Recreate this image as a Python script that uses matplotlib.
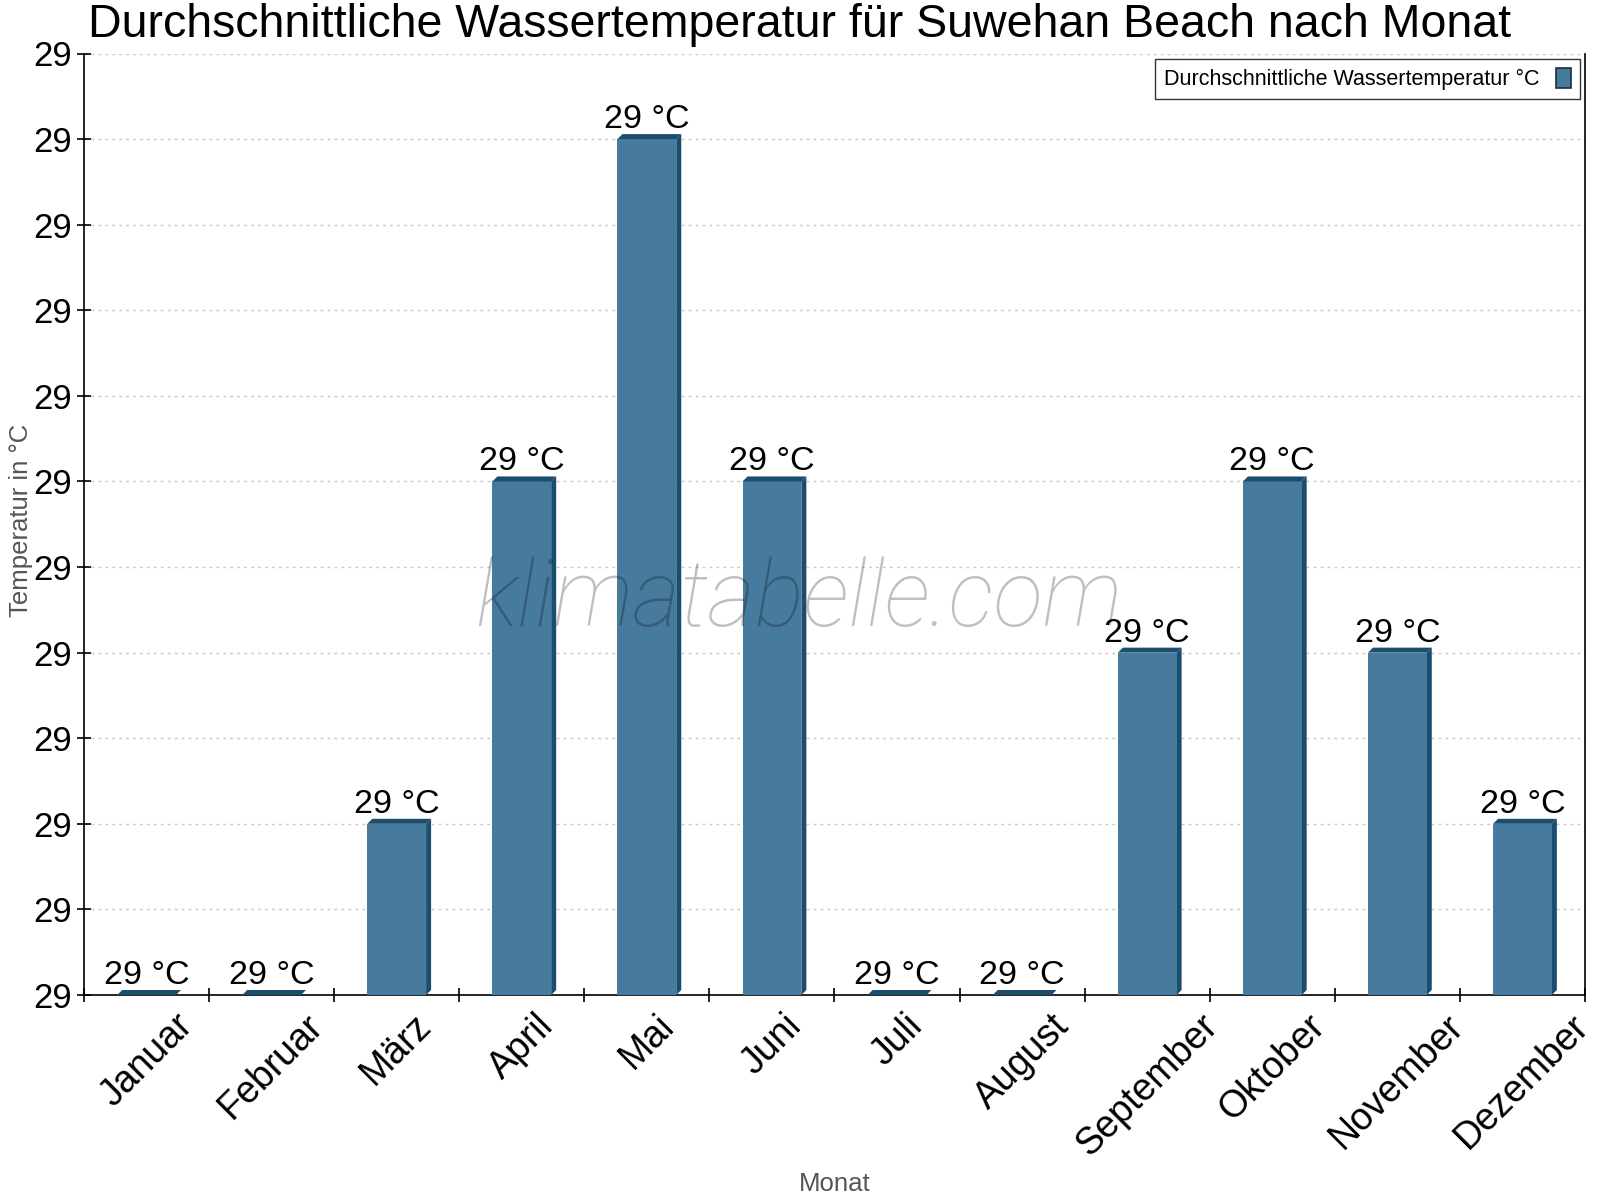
import matplotlib
matplotlib.use("Agg")
import matplotlib.pyplot as plt
from matplotlib.patches import Polygon, Patch
from matplotlib.ticker import FixedLocator, FormatStrFormatter

months = ["Januar", "Februar", "März", "April", "Mai", "Juni", "Juli",
          "August", "September", "Oktober", "November", "Dezember"]
water_temp = [28.80, 28.80, 28.88, 29.04, 29.20, 29.04, 28.80, 28.80,
              28.96, 29.04, 28.96, 28.88]
y_ticks = [28.80, 28.84, 28.88, 28.92, 28.96, 29.00, 29.04, 29.08, 29.12,
           29.16, 29.20, 29.24]

title = "Durchschnittliche Wassertemperatur für Suwehan Beach nach Monat"
legend_label = "Durchschnittliche Wassertemperatur °C"

FRONT = "#467b9e"
DARK = "#1b4d6e"

plt.rcParams['font.family'] = ['Liberation Sans', 'DejaVu Sans']

fig = plt.figure(figsize=(16, 12), dpi=100)
ax = fig.add_axes([84/1600, 1 - 995/1200, (1585 - 84)/1600, (995 - 53.5)/1200])

ymin, ymax = y_ticks[0], y_ticks[-1]
ax.set_xlim(-0.5, len(months) - 0.5)
ax.set_ylim(ymin, ymax)

# pixel -> data conversions for the 3D offset
ax_w_px = (1585 - 84)
ax_h_px = (995 - 53.5)
dx = 5 * (len(months)) / ax_w_px
dy = 5 * (ymax - ymin) / ax_h_px

w = 0.47
xs = list(range(len(months)))
heights = [v - ymin for v in water_temp]
ax.bar(xs, heights, bottom=ymin, width=w, color=FRONT, zorder=3, linewidth=0)

for x, v in zip(xs, water_temp):
    xl, xr = x - w / 2, x + w / 2
    side = Polygon([(xr, ymin), (xr, v), (xr + dx, v + dy), (xr + dx, ymin + dy)],
                   closed=True, facecolor=DARK, edgecolor='none', zorder=2.9)
    top = Polygon([(xl, v), (xr, v), (xr + dx, v + dy), (xl + dx, v + dy)],
                  closed=True, facecolor=DARK, edgecolor='none', zorder=3.1)
    ax.add_patch(side)
    ax.add_patch(top)
    ax.annotate(f"{v:.0f} °C", xy=(x, v), xytext=(0, 8), textcoords='offset points',
                ha='center', va='baseline', fontsize=24.5, color='black', zorder=5,
                annotation_clip=False)

# axes styling
ax.spines['top'].set_visible(False)
for s in ['left', 'bottom', 'right']:
    ax.spines[s].set_linewidth(1.2)
    ax.spines[s].set_color('black')

ax.yaxis.set_major_locator(FixedLocator(y_ticks))
ax.yaxis.set_major_formatter(FormatStrFormatter('%.0f'))
ax.tick_params(axis='y', direction='inout', length=10, width=1.2, labelsize=25, pad=4)
ax.grid(axis='y', color='#c8c8c8', linestyle=(0, (2, 3)), linewidth=1, zorder=0)
ax.set_axisbelow(True)

ax.set_xticks(xs)
ax.set_xticklabels(months, fontsize=27, rotation=45, ha='center', va='top')
ax.tick_params(axis='x', which='major', length=0, pad=9)
ax.set_xticks([i + 0.5 for i in range(-1, len(months))], minor=True)
ax.tick_params(axis='x', which='minor', direction='inout', length=10, width=1.2)

fig.text(21/1600, 1 - 520/1200, "Temperatur in °C", fontsize=18.5, color='#555555',
         ha='center', va='center', rotation=90)
fig.text(835/1600, 1 - 1184/1200, "Monat", fontsize=18.5, color='#555555',
         ha='center', va='center')

fig.text(88/1600, 1 - 3/1200, title, fontsize=33.5, ha='left', va='top')

# watermark
fig.text(799/1600, 1 - 601/1200, "klimatabelle.com", fontsize=66, family='Roboto',
         style='italic', fontweight='light', color='black', alpha=0.25,
         ha='center', va='center', zorder=10)

leg = ax.legend(handles=[Patch(facecolor=FRONT, edgecolor='#1a3040', linewidth=1.2)],
                labels=[legend_label], loc='upper right', bbox_to_anchor=(1580/1600, 1 - 59/1200),
                bbox_transform=fig.transFigure, fontsize=15.5, frameon=True, fancybox=False,
                markerfirst=False, handlelength=0.7, handleheight=1.1, borderpad=0.4,
                handletextpad=0.8, borderaxespad=0)
leg.get_frame().set_edgecolor('black')
leg.get_frame().set_linewidth(1.0)

fig.savefig("out.png", dpi=100)
